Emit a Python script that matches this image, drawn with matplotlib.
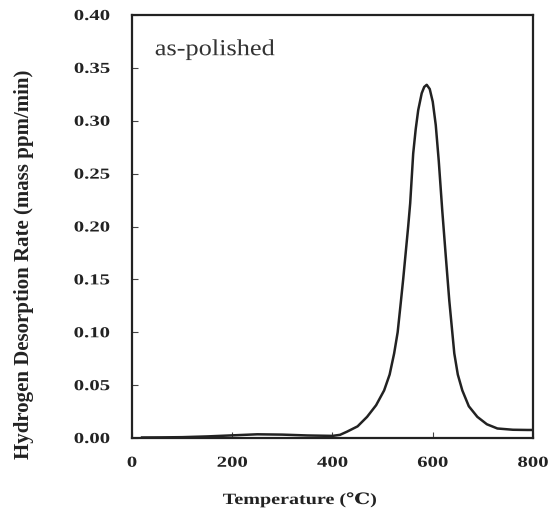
import matplotlib
matplotlib.use("Agg")
import matplotlib.pyplot as plt
from matplotlib.patheffects import AbstractPathEffect
from matplotlib.transforms import Affine2D

# Thermal desorption spectrum, as-polished specimen
temperature = [20, 60, 100, 150, 200, 250, 300, 350, 400, 415, 429, 450, 469,
               487, 503, 514, 523, 530, 536, 541, 546, 551, 555, 561, 566,
               571, 578, 583, 588, 594, 600, 606, 612, 619, 626, 633, 643,
               650, 659, 672, 689, 708, 729, 760, 789, 800]
rate = [0.0005, 0.0006, 0.0008, 0.0015, 0.0025, 0.0035, 0.0032, 0.0024, 0.0020,
        0.0030, 0.0060, 0.0110, 0.0200, 0.0310, 0.0450, 0.0600, 0.0800, 0.1000,
        0.1270, 0.1500, 0.1750, 0.2000, 0.2220, 0.2690, 0.2920, 0.3100, 0.3260,
        0.3320, 0.3340, 0.3300, 0.3180, 0.2960, 0.2620, 0.2150, 0.1720, 0.1300,
        0.0800, 0.0600, 0.0450, 0.0300, 0.0200, 0.0130, 0.0090, 0.0078, 0.0076,
        0.0076]

x_ticks = [0, 200, 400, 600, 800]
y_ticks = [0.00, 0.05, 0.10, 0.15, 0.20, 0.25, 0.30, 0.35, 0.40]


class Widen(AbstractPathEffect):
    """Draw a text path widened along its baseline about a chosen anchor."""

    def __init__(self, factor, anchor="center"):
        super().__init__()
        self.factor = factor
        self.anchor = anchor

    def draw_path(self, renderer, gc, tpath, affine, rgbFace=None):
        ext = tpath.get_extents()
        ref = {"left": ext.x0, "right": ext.x1,
               "center": 0.5 * (ext.x0 + ext.x1)}[self.anchor]
        widen = Affine2D().translate(-ref, 0).scale(self.factor, 1).translate(ref, 0)
        renderer.draw_path(gc, tpath, widen + affine, rgbFace)


serif = ["Liberation Serif", "DejaVu Serif"]
plt.rcParams["font.family"] = serif
ink = "#222222"

fig = plt.figure(figsize=(5.48, 5.21), dpi=100)
ax = fig.add_axes([0.2409, 0.1593, 0.7317, 0.8119])

ax.plot(temperature, rate, color=ink, lw=1.8, solid_joinstyle="round")

ax.set_xlim(0, 800)
ax.set_ylim(0, 0.40)
ax.set_xticks(x_ticks)
ax.set_yticks(y_ticks)
ax.set_xticklabels([str(v) for v in x_ticks])
ax.set_yticklabels([f"{v:.2f}" for v in y_ticks])
ax.tick_params(direction="in", length=4, width=0.8, colors="#444444",
               labelcolor=ink, labelsize=11)
ax.tick_params(axis="y", pad=16)
ax.tick_params(axis="x", pad=13.5)
for lbl in ax.get_xticklabels() + ax.get_yticklabels():
    lbl.set_fontweight("bold")
for s in ax.spines.values():
    s.set_linewidth(1.6)
    s.set_color(ink)

fig.text(300 / 548, 1 - 500 / 521, "Temperature (℃)", fontsize=11.3,
         fontweight="bold", color=ink, ha="center", va="center",
         path_effects=[Widen(1.28, "center")])
fig.text(24 / 548, 1 - 264 / 521, "Hydrogen Desorption Rate (mass ppm/min)",
         fontsize=15, fontweight="bold", color=ink, rotation=90,
         ha="center", va="center")

ax.text(0.057, 0.905, "as-polished", transform=ax.transAxes, fontsize=16.5,
        color="#333333", va="baseline", ha="left",
        path_effects=[Widen(1.15, "left")])

# tick label objects exist after the first draw; widen them before saving
fig.canvas.draw()
for lbl in ax.get_xticklabels():
    lbl.set_path_effects([Widen(1.36, "center")])
for lbl in ax.get_yticklabels():
    lbl.set_path_effects([Widen(1.36, "right")])

fig.savefig("out.png", dpi=100)
